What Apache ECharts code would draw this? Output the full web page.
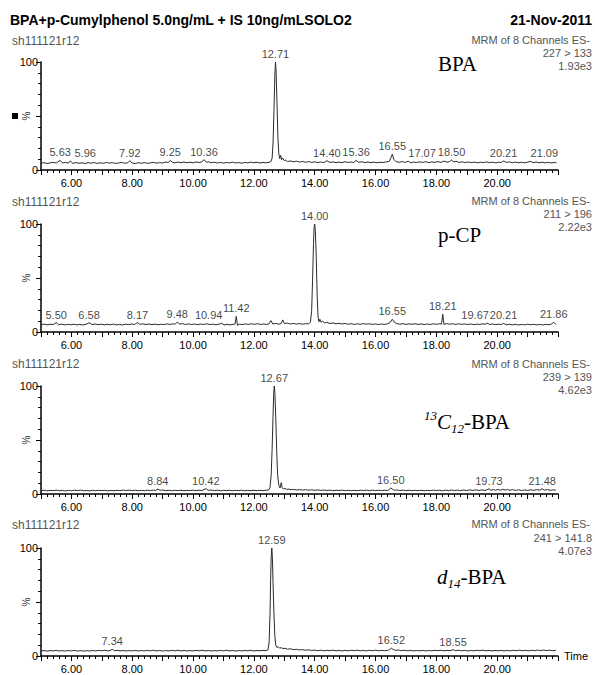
<!DOCTYPE html>
<html><head><meta charset="utf-8">
<script src="https://cdn.jsdelivr.net/npm/echarts@6/dist/echarts.min.js"></script>
<style>html,body{margin:0;padding:0;background:#fff}#c{width:595px;height:675px}</style>
</head><body><div id="c"></div>
<script>
// ---------- DATA ----------
const headerTitle = 'BPA+p-Cumylphenol 5.0ng/mL + IS 10ng/mLSOLO2';
const headerDate = '21-Nov-2011';
const fileName = 'sh111121r12';
const channelInfo = 'MRM of 8 Channels ES-';
const transitions = ['227 > 133', '211 > 196', '239 > 139', '241 > 141.8'];
const maxIntensity = ['1.93e3', '2.22e3', '4.62e3', '4.07e3'];
const xTicks = [6, 8, 10, 12, 14, 16, 18, 20];

const bpaData = [[5.0,6.2],[5.1,6.8],[5.2,6.0],[5.3,6.6],[5.4,7.1],[5.5,6.4],[5.63,8.9],[5.7,6.5],[5.8,7.0],[5.9,6.3],[5.96,8.4],[6.05,6.1],[6.15,6.9],[6.25,6.2],[6.35,6.7],[6.45,6.0],[6.55,6.8],[6.65,6.3],[6.75,6.9],[6.85,6.1],[6.95,6.6],[7.05,6.2],[7.15,7.0],[7.25,6.4],[7.35,6.8],[7.45,6.1],[7.55,6.5],[7.65,6.9],[7.75,6.3],[7.85,6.6],[7.92,8.6],[8.0,6.4],[8.1,6.0],[8.2,6.7],[8.3,6.2],[8.4,6.9],[8.5,6.1],[8.6,6.6],[8.7,7.1],[8.8,6.4],[8.9,6.8],[9.0,6.5],[9.1,7.3],[9.18,7.0],[9.25,8.8],[9.32,7.2],[9.4,6.6],[9.5,7.3],[9.6,6.8],[9.7,7.4],[9.8,6.7],[9.9,7.2],[10.0,6.6],[10.1,7.5],[10.2,6.9],[10.28,7.3],[10.36,9.6],[10.44,7.1],[10.5,7.6],[10.6,6.8],[10.7,7.2],[10.8,6.5],[10.9,7.0],[11.0,6.4],[11.1,6.9],[11.2,6.6],[11.3,7.3],[11.4,6.5],[11.5,6.9],[11.6,6.3],[11.7,7.0],[11.8,6.6],[11.9,7.3],[12.0,6.7],[12.1,7.2],[12.2,6.5],[12.3,7.0],[12.4,6.6],[12.5,7.1],[12.56,7.8],[12.6,11],[12.63,25],[12.66,55],[12.69,88],[12.71,100],[12.73,92],[12.76,62],[12.79,30],[12.82,15],[12.85,10.5],[12.88,13.5],[12.91,9.5],[12.95,11],[13.0,8.6],[13.05,9.2],[13.1,7.8],[13.2,8.4],[13.3,7.6],[13.4,8.2],[13.5,7.3],[13.6,7.9],[13.7,7.2],[13.8,7.8],[13.9,7.0],[14.0,7.6],[14.1,6.9],[14.2,7.4],[14.3,6.8],[14.4,8.6],[14.5,7.0],[14.6,7.5],[14.7,6.8],[14.8,7.3],[14.9,6.9],[15.0,7.6],[15.1,7.0],[15.2,7.4],[15.28,6.9],[15.36,8.8],[15.45,7.1],[15.55,7.6],[15.65,6.9],[15.75,7.4],[15.85,6.8],[15.95,7.3],[16.05,6.7],[16.15,7.2],[16.25,6.9],[16.35,7.5],[16.45,8.0],[16.5,11],[16.55,14.5],[16.6,10],[16.68,7.6],[16.78,7.2],[16.88,7.8],[16.98,7.0],[17.07,8.2],[17.15,6.6],[17.25,7.4],[17.35,6.9],[17.45,7.6],[17.55,7.0],[17.65,7.7],[17.75,6.8],[17.85,7.5],[17.95,7.1],[18.05,7.8],[18.15,7.0],[18.25,8.3],[18.35,7.2],[18.42,7.6],[18.5,9.2],[18.58,7.4],[18.65,8.1],[18.75,7.0],[18.85,7.6],[18.95,6.9],[19.05,7.4],[19.15,6.8],[19.25,7.3],[19.35,6.7],[19.45,7.2],[19.55,6.9],[19.65,7.5],[19.75,6.8],[19.85,7.2],[19.95,6.6],[20.05,7.3],[20.13,6.9],[20.21,8.4],[20.3,7.0],[20.4,7.5],[20.5,6.8],[20.6,7.3],[20.7,6.7],[20.8,7.2],[20.9,6.6],[21.0,7.3],[21.09,8.0],[21.18,6.8],[21.28,7.4],[21.38,6.7],[21.48,7.2],[21.58,6.6],[21.68,7.1],[21.78,6.5],[21.88,7.0],[21.95,6.7]];

const pcpData = [[5.0,6.8],[5.1,7.3],[5.2,6.6],[5.3,7.2],[5.4,6.9],[5.5,8.7],[5.58,6.8],[5.68,7.3],[5.78,6.5],[5.88,7.1],[5.98,6.7],[6.08,7.2],[6.18,6.6],[6.28,7.0],[6.38,6.5],[6.48,7.1],[6.58,8.6],[6.68,6.9],[6.78,7.4],[6.88,6.8],[6.98,7.2],[7.08,6.6],[7.18,7.1],[7.28,6.7],[7.38,7.3],[7.48,6.6],[7.58,7.0],[7.68,6.5],[7.78,7.2],[7.88,6.8],[7.98,7.4],[8.08,7.0],[8.17,8.7],[8.25,7.1],[8.35,7.6],[8.45,6.9],[8.55,7.4],[8.65,6.8],[8.75,7.3],[8.85,6.7],[8.95,7.2],[9.05,6.9],[9.15,7.5],[9.25,7.0],[9.35,7.6],[9.41,7.2],[9.48,9.2],[9.56,7.3],[9.65,7.8],[9.75,7.0],[9.85,7.5],[9.95,6.9],[10.05,7.4],[10.15,6.8],[10.25,7.3],[10.35,7.0],[10.45,7.6],[10.55,6.9],[10.65,7.3],[10.75,6.7],[10.85,7.2],[10.94,8.1],[11.02,6.5],[11.12,7.1],[11.22,6.6],[11.32,7.0],[11.38,7.4],[11.42,14.5],[11.46,6.2],[11.52,7.3],[11.62,6.9],[11.72,7.5],[11.82,7.0],[11.92,7.6],[12.02,7.1],[12.12,7.7],[12.22,7.0],[12.32,7.4],[12.42,7.0],[12.5,7.6],[12.56,10.5],[12.62,7.5],[12.72,7.9],[12.82,7.2],[12.9,8.0],[12.95,11.2],[13.0,7.8],[13.1,8.2],[13.2,7.4],[13.3,7.9],[13.4,7.3],[13.5,7.8],[13.6,7.2],[13.7,7.7],[13.8,7.6],[13.86,9],[13.9,20],[13.93,48],[13.96,82],[13.98,97],[14.0,100],[14.02,94],[14.05,70],[14.08,35],[14.11,14],[14.14,9.5],[14.17,11.8],[14.21,9.0],[14.26,10.2],[14.32,8.4],[14.4,8.9],[14.5,7.8],[14.6,8.4],[14.7,7.6],[14.8,8.1],[14.9,7.4],[15.0,7.9],[15.1,7.2],[15.2,7.7],[15.3,7.0],[15.4,7.6],[15.5,7.1],[15.6,7.8],[15.7,7.2],[15.8,7.6],[15.9,7.0],[16.0,7.5],[16.1,6.9],[16.2,7.4],[16.3,7.0],[16.4,7.7],[16.48,8.8],[16.55,11.8],[16.62,9.0],[16.7,7.8],[16.8,7.2],[16.9,7.7],[17.0,7.0],[17.1,7.6],[17.2,7.1],[17.3,7.7],[17.4,7.0],[17.5,7.5],[17.6,6.9],[17.7,7.4],[17.8,7.0],[17.9,7.6],[18.0,7.1],[18.1,7.7],[18.17,7.3],[18.21,16.5],[18.25,7.0],[18.33,7.8],[18.43,7.2],[18.53,7.7],[18.63,7.0],[18.73,7.6],[18.83,7.1],[18.93,7.5],[19.03,6.9],[19.13,7.4],[19.23,6.8],[19.33,7.3],[19.43,7.0],[19.53,7.6],[19.6,7.1],[19.67,8.3],[19.75,7.0],[19.85,7.4],[19.95,6.8],[20.05,7.3],[20.13,6.9],[20.21,7.9],[20.3,6.7],[20.4,7.2],[20.5,6.6],[20.6,7.1],[20.7,6.5],[20.8,7.0],[20.9,6.6],[21.0,7.2],[21.1,6.7],[21.2,7.1],[21.3,6.6],[21.4,7.0],[21.5,6.5],[21.6,7.1],[21.7,6.7],[21.78,7.3],[21.86,9.0],[21.93,7.0]];

const c13Data = [[5.0,3.0],[5.1,3.5],[5.2,2.9],[5.3,3.4],[5.4,3.1],[5.5,3.6],[5.6,3.0],[5.7,3.4],[5.8,2.8],[5.9,3.3],[6.0,3.0],[6.1,3.5],[6.2,3.1],[6.3,3.6],[6.4,3.0],[6.5,3.3],[6.6,2.9],[6.7,3.4],[6.8,3.0],[6.9,3.5],[7.0,3.1],[7.1,3.4],[7.2,2.9],[7.3,3.3],[7.4,3.0],[7.5,3.5],[7.6,3.1],[7.7,3.6],[7.8,3.2],[7.9,3.6],[8.0,3.1],[8.1,3.5],[8.2,3.0],[8.3,3.4],[8.4,3.1],[8.5,3.5],[8.6,3.2],[8.7,3.6],[8.77,3.3],[8.84,4.6],[8.92,3.4],[9.0,3.7],[9.1,3.1],[9.2,3.5],[9.3,3.0],[9.4,3.4],[9.5,3.1],[9.6,3.5],[9.7,3.0],[9.8,3.4],[9.9,3.2],[10.0,3.6],[10.1,3.1],[10.2,3.5],[10.3,3.2],[10.36,4.2],[10.42,5.0],[10.5,3.4],[10.6,3.7],[10.7,3.1],[10.8,3.5],[10.9,3.0],[11.0,3.4],[11.1,3.1],[11.2,3.5],[11.3,3.0],[11.4,3.4],[11.5,3.1],[11.6,3.5],[11.7,3.0],[11.8,3.3],[11.9,3.1],[12.0,3.5],[12.1,3.0],[12.2,3.4],[12.3,3.1],[12.4,3.5],[12.48,3.6],[12.53,6],[12.57,18],[12.6,42],[12.63,72],[12.65,92],[12.67,100],[12.69,94],[12.72,70],[12.75,40],[12.78,18],[12.82,8],[12.86,5.5],[12.9,10.5],[12.93,6.0],[12.97,4.6],[13.02,5.2],[13.08,4.2],[13.15,4.6],[13.22,3.9],[13.3,4.3],[13.4,3.7],[13.5,4.1],[13.6,3.6],[13.7,4.0],[13.8,3.5],[13.9,3.9],[14.0,3.4],[14.1,3.8],[14.2,3.3],[14.3,3.7],[14.4,3.2],[14.5,3.6],[14.6,3.1],[14.7,3.5],[14.8,3.2],[14.9,3.6],[15.0,3.1],[15.1,3.5],[15.2,3.0],[15.3,3.4],[15.4,3.1],[15.5,3.5],[15.6,3.2],[15.7,3.6],[15.8,3.1],[15.9,3.5],[16.0,3.2],[16.1,3.5],[16.2,3.1],[16.3,3.4],[16.4,3.3],[16.45,4.2],[16.5,5.6],[16.56,4.4],[16.62,3.5],[16.7,3.8],[16.8,3.2],[16.9,3.6],[17.0,3.1],[17.1,3.5],[17.2,3.0],[17.3,3.4],[17.4,3.1],[17.5,3.5],[17.6,3.0],[17.7,3.4],[17.8,3.1],[17.9,3.6],[18.0,3.2],[18.1,3.5],[18.2,3.0],[18.3,3.6],[18.4,3.1],[18.5,3.7],[18.6,3.2],[18.7,3.6],[18.8,3.1],[18.9,3.7],[19.0,3.2],[19.1,3.8],[19.2,3.3],[19.3,3.9],[19.4,3.2],[19.5,3.8],[19.6,3.3],[19.67,4.0],[19.73,4.8],[19.8,3.5],[19.88,4.2],[19.95,3.4],[20.02,4.3],[20.1,3.5],[20.18,4.4],[20.26,3.6],[20.34,4.2],[20.42,3.4],[20.5,4.1],[20.6,3.3],[20.7,3.9],[20.8,3.2],[20.9,3.8],[21.0,3.3],[21.1,3.9],[21.2,3.4],[21.3,4.0],[21.4,3.5],[21.48,4.9],[21.55,3.6],[21.65,4.1],[21.75,3.4],[21.85,3.9],[21.93,3.5]];

const d14Data = [[5.0,4.6],[5.1,5.1],[5.2,4.5],[5.3,5.0],[5.4,4.7],[5.5,5.2],[5.6,4.6],[5.7,5.0],[5.8,4.5],[5.9,5.1],[6.0,4.7],[6.1,5.2],[6.2,4.6],[6.3,5.0],[6.4,4.5],[6.5,4.9],[6.6,4.6],[6.7,5.1],[6.8,4.7],[6.9,5.2],[7.0,4.8],[7.1,5.3],[7.2,4.7],[7.27,5.1],[7.34,6.2],[7.42,4.9],[7.5,5.3],[7.6,4.7],[7.7,5.1],[7.8,4.6],[7.9,5.0],[8.0,4.7],[8.1,5.2],[8.2,4.6],[8.3,5.1],[8.4,4.7],[8.5,5.2],[8.6,4.8],[8.7,5.3],[8.8,4.7],[8.9,5.1],[9.0,4.6],[9.1,5.0],[9.2,4.7],[9.3,5.2],[9.4,4.8],[9.5,5.3],[9.6,4.7],[9.7,5.1],[9.8,4.6],[9.9,5.0],[10.0,4.7],[10.1,5.2],[10.2,4.8],[10.3,5.3],[10.4,4.7],[10.5,5.1],[10.6,4.6],[10.7,5.0],[10.8,4.7],[10.9,5.2],[11.0,4.8],[11.1,5.3],[11.2,4.7],[11.3,5.1],[11.4,4.6],[11.5,5.0],[11.6,4.7],[11.7,5.2],[11.8,4.8],[11.9,5.3],[12.0,4.7],[12.1,5.1],[12.2,4.8],[12.3,5.2],[12.4,4.9],[12.46,5.6],[12.5,12],[12.53,38],[12.55,70],[12.57,92],[12.59,100],[12.61,90],[12.63,68],[12.66,38],[12.69,18],[12.72,10],[12.76,7.8],[12.8,8.6],[12.85,7.2],[12.9,7.8],[12.96,6.8],[13.02,7.2],[13.1,6.3],[13.2,6.7],[13.3,5.9],[13.4,6.2],[13.5,5.6],[13.6,5.9],[13.7,5.3],[13.8,5.7],[13.9,5.1],[14.0,5.5],[14.1,4.9],[14.2,5.4],[14.3,4.8],[14.4,5.3],[14.5,4.9],[14.6,5.4],[14.7,4.8],[14.8,5.2],[14.9,4.7],[15.0,5.2],[15.1,4.8],[15.2,5.3],[15.3,4.9],[15.4,5.4],[15.5,4.8],[15.6,5.2],[15.7,4.7],[15.8,5.3],[15.9,4.9],[16.0,5.4],[16.1,4.8],[16.2,5.2],[16.3,4.9],[16.4,5.3],[16.46,5.9],[16.52,7.2],[16.58,6.0],[16.66,5.2],[16.75,5.6],[16.85,4.9],[16.95,5.3],[17.05,4.8],[17.15,5.2],[17.25,4.7],[17.35,5.1],[17.45,4.8],[17.55,5.2],[17.65,4.7],[17.75,5.1],[17.85,4.8],[17.95,5.3],[18.05,4.9],[18.15,5.3],[18.25,4.8],[18.35,5.2],[18.45,4.9],[18.55,5.9],[18.63,4.9],[18.73,5.3],[18.83,4.8],[18.93,5.2],[19.03,4.7],[19.13,5.1],[19.23,4.8],[19.33,5.3],[19.43,4.9],[19.53,5.4],[19.63,4.8],[19.73,5.2],[19.83,4.7],[19.93,5.1],[20.03,4.8],[20.13,5.2],[20.23,4.7],[20.33,5.1],[20.43,4.8],[20.53,5.3],[20.63,4.9],[20.73,5.4],[20.83,4.9],[20.93,5.3],[21.03,4.8],[21.13,5.3],[21.23,4.9],[21.33,5.4],[21.43,5.0],[21.53,5.5],[21.63,5.0],[21.73,5.4],[21.83,4.9],[21.93,5.2]];

const bpaPeaks = [5.63, 5.96, 7.92, 9.25, 10.36, 12.71, 14.40, 15.36, 16.55, 17.07, 18.50, 20.21, 21.09];
const pcpPeaks = [5.50, 6.58, 8.17, 9.48, 10.94, 11.42, 14.00, 16.55, 18.21, 19.67, 20.21, 21.86];
const c13Peaks = [8.84, 10.42, 12.67, 16.50, 19.73, 21.48];
const d14Peaks = [7.34, 12.59, 16.52, 18.55];

// ---------- LAYOUT / STYLE ----------
const panels = [
  {data: bpaData, peaks: bpaPeaks},
  {data: pcpData, peaks: pcpPeaks},
  {data: c13Data, peaks: c13Peaks},
  {data: d14Data, peaks: d14Peaks}
];
const gridTops = [62, 224, 386, 548];
const gridH = 108, gridLeft = 41, gridW = 517;
const shY = [41, 202, 364, 525];
const mrmY = [40, 201, 364, 524];
const trY = [53, 214, 377, 538];
const scY = [65.5, 227, 390, 551];
// label offsets (style only)
const labelOffsets = {'0:5.96':[15,0], '0:17.07':[14,0], '0:21.09':[14,0], '1:10.94':[-13,0], '1:19.67':[-12,0]};

const SANS = "'Liberation Sans', Arial, sans-serif";
const SERIF = "'Liberation Serif', 'Times New Roman', serif";
const GREY = '#555';

function valueAt(data, t) {
  const p = data.find(d => Math.abs(d[0] - t) < 1e-6);
  return p ? p[1] : 0;
}

const grid = [], xAxis = [], yAxis = [], series = [];
panels.forEach((p, i) => {
  grid.push({left: gridLeft, width: gridW, top: gridTops[i], height: gridH});
  xAxis.push({
    type: 'value', gridIndex: i, min: 5, max: 22, interval: 1,
    name: i === 3 ? 'Time' : '', nameLocation: 'end', nameGap: 6,
    nameTextStyle: {fontFamily: SANS, fontSize: 11, color: '#000', verticalAlign: 'middle'},
    axisLine: {onZero: false, lineStyle: {color: '#000', width: 1.5}},
    axisTick: {length: 5, lineStyle: {color: '#000', width: 1}},
    minorTick: {show: true, splitNumber: 5, length: 3, lineStyle: {color: '#000', width: 1}},
    axisLabel: {fontFamily: SANS, fontSize: 11, color: '#000', margin: 7,
      formatter: v => xTicks.includes(v) ? v.toFixed(2) : ''},
    splitLine: {show: false}
  });
  yAxis.push({
    type: 'value', gridIndex: i, min: 0, max: 100, interval: 50,
    name: '%', nameLocation: 'middle', nameRotate: 90, nameGap: 10, nameMoveOverlap: false,
    nameTextStyle: {fontFamily: SANS, fontSize: 10, color: '#333'},
    axisLine: {show: true, lineStyle: {color: '#000', width: 1.5}},
    axisTick: {show: true, length: 5, lineStyle: {color: '#000'}},
    minorTick: {show: true, splitNumber: 5, length: 3, lineStyle: {color: '#000'}},
    axisLabel: {fontFamily: SANS, fontSize: 11, color: '#000', margin: 3,
      formatter: v => (v === 50 ? '' : String(v))},
    splitLine: {show: false}
  });
  series.push({
    type: 'line', xAxisIndex: i, yAxisIndex: i, data: p.data,
    showSymbol: false, symbol: 'none', silent: true,
    lineStyle: {color: '#2a2a2a', width: 1}
  });
  series.push({
    type: 'scatter', xAxisIndex: i, yAxisIndex: i, silent: true,
    symbolSize: 1, itemStyle: {color: 'rgba(0,0,0,0)'},
    label: {show: true, position: 'top', distance: 2, fontFamily: SANS, fontSize: 11, color: '#111',
      formatter: q => q.value[0].toFixed(2)},
    data: p.peaks.map(t => {
      const item = {value: [t, valueAt(p.data, t)]};
      const off = labelOffsets[i + ':' + t.toFixed(2)];
      if (off) item.label = {offset: off};
      return item;
    })
  });
});

const graphic = [
  {type: 'text', x: 10, y: 20, style: {text: headerTitle, fontFamily: SANS, fontWeight: 'bold', fontSize: 14, fill: '#000', verticalAlign: 'middle'}},
  {type: 'text', x: 592, y: 20, style: {text: headerDate, fontFamily: SANS, fontWeight: 'bold', fontSize: 14, fill: '#000', align: 'right', verticalAlign: 'middle'}},
  {type: 'rect', shape: {x: 12, y: 113, width: 6, height: 6}, style: {fill: '#000'}}
];
for (let i = 0; i < 4; i++) {
  graphic.push({type: 'text', x: 12, y: shY[i], style: {text: fileName, fontFamily: SANS, fontSize: 12, fill: GREY, verticalAlign: 'middle'}});
  graphic.push({type: 'text', x: 590, y: mrmY[i], style: {text: channelInfo, fontFamily: SANS, fontSize: 11, fill: GREY, align: 'right', verticalAlign: 'middle'}});
  graphic.push({type: 'text', x: 592, y: trY[i], style: {text: transitions[i], fontFamily: SANS, fontSize: 11, fill: GREY, align: 'right', verticalAlign: 'middle'}});
  graphic.push({type: 'text', x: 592, y: scY[i], style: {text: maxIntensity[i], fontFamily: SANS, fontSize: 11, fill: GREY, align: 'right', verticalAlign: 'middle'}});
}
const cmpRich = {
  n: {fontFamily: SERIF, fontSize: 21, lineHeight: 26, verticalAlign: 'middle', fill: '#000'},
  it: {fontFamily: SERIF, fontSize: 21, fontStyle: 'italic', lineHeight: 26, verticalAlign: 'middle', fill: '#000'},
  sup: {fontFamily: SERIF, fontSize: 13, fontStyle: 'italic', lineHeight: 14, verticalAlign: 'top', fill: '#000'},
  sub: {fontFamily: SERIF, fontSize: 13, fontStyle: 'italic', lineHeight: 14, verticalAlign: 'bottom', fill: '#000'}
};
const compoundLabels = ['{n|BPA}', '{n|p-CP}', '{sup|13}{it|C}{sub|12}{n|-BPA}', '{it|d}{sub|14}{n|-BPA}'];
const cmpPos = [[438, 64], [438, 235], [424, 422], [437, 577]];
compoundLabels.forEach((t, i) => {
  graphic.push({type: 'text', x: cmpPos[i][0], y: cmpPos[i][1], style: {text: t, rich: cmpRich, verticalAlign: 'middle', fontFamily: SERIF, fontSize: 21}});
});

const chart = echarts.init(document.getElementById('c'), null, {renderer: 'svg'});
chart.setOption({
  backgroundColor: '#fff',
  animation: false,
  grid, xAxis, yAxis, series, graphic
});
</script></body></html>
